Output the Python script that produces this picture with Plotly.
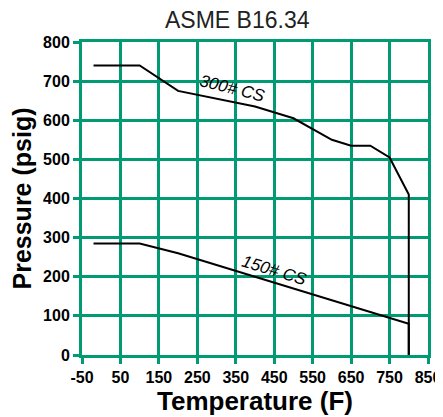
import plotly.graph_objects as go

temps_300 = [-20, 100, 200, 300, 400, 500, 600, 650, 700, 750, 800, 800]
press_300 = [740, 740, 675, 655, 635, 605, 550, 535, 535, 505, 410, 0]

temps_150 = [-20, 100, 200, 300, 400, 500, 600, 650, 700, 750, 800, 800]
press_150 = [285, 285, 260, 230, 200, 170, 140, 125, 110, 95, 80, 0]

x_ticks = [-50, 50, 150, 250, 350, 450, 550, 650, 750, 850]
y_ticks = [0, 100, 200, 300, 400, 500, 600, 700, 800]

GREEN = "#009B72"
FONT = "Arial, Liberation Sans, sans-serif"

fig = go.Figure()
fig.add_trace(go.Scatter(x=temps_300, y=press_300, mode="lines",
                         line=dict(color="black", width=2), showlegend=False))
fig.add_trace(go.Scatter(x=temps_150, y=press_150, mode="lines",
                         line=dict(color="black", width=2), showlegend=False))

fig.add_annotation(x=341, y=681, text="300# CS", showarrow=False, textangle=14,
                   font=dict(family=FONT, size=17, color="black", style="italic"))
fig.add_annotation(x=450, y=217, text="150# CS", showarrow=False, textangle=17,
                   font=dict(family=FONT, size=17, color="black", style="italic"))

axis_common = dict(showgrid=True, gridcolor=GREEN, gridwidth=3, zeroline=False,
                   showline=True, linecolor=GREEN, linewidth=3, mirror=True,
                   ticks="outside", ticklen=6, tickwidth=3, tickcolor=GREEN,
                   automargin=False,
                   tickfont=dict(family=FONT, size=16, color="black", weight="bold"))

fig.update_xaxes(range=[-50, 850], tickvals=x_ticks, ticktext=[str(v) for v in x_ticks],
                 title=dict(text="Temperature (F)", standoff=4,
                            font=dict(family=FONT, size=26, color="black", weight="bold")),
                 **axis_common)
fig.update_yaxes(range=[0, 800], tickvals=y_ticks,
                 title=dict(text="Pressure (psig)", standoff=6,
                            font=dict(family=FONT, size=25, color="black", weight="bold")),
                 **axis_common)

fig.update_layout(
    width=435, height=409,
    margin=dict(l=74, r=15, t=34, b=62),
    paper_bgcolor="white", plot_bgcolor="white",
    title=dict(text="ASME B16.34", x=0.527, xanchor="center", y=0.971, yanchor="middle",
               font=dict(family=FONT, size=23, color="#222222")),
)

fig.write_html("out.html")
